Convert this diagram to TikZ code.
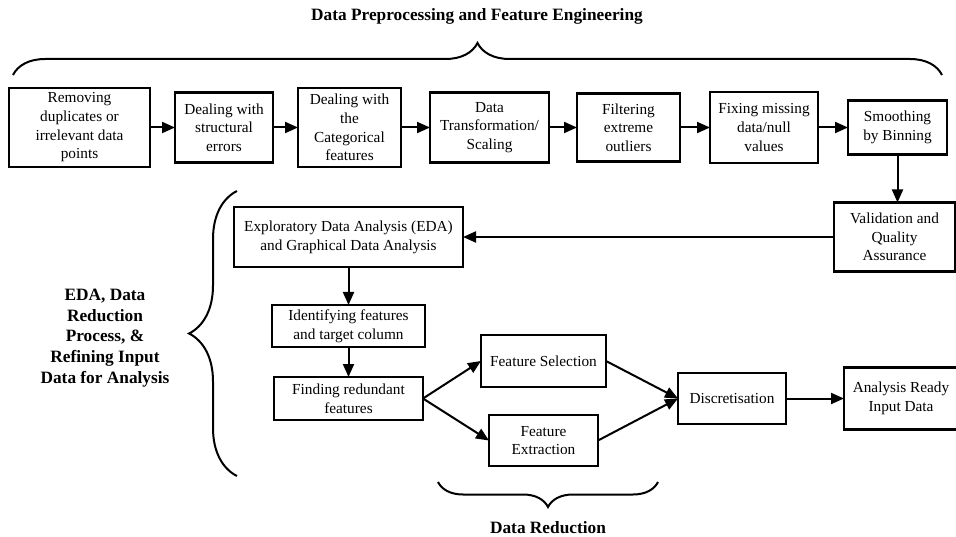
\documentclass[tikz,border=0pt]{standalone}
\usepackage{fontspec}
\setmainfont{Liberation Serif}
\usetikzlibrary{positioning, arrows.meta, decorations.pathreplacing}

\begin{document}
\begin{tikzpicture}[x=1pt, y=-1pt,
    stagebox/.style={draw, line width=2.4pt, align=center, inner sep=2pt, outer sep=0pt,
      font=\fontsize{15.3}{18.7}\selectfont},
    flowarrow/.style={-{Triangle[length=13pt,width=11pt]}, line width=2pt},
    groupbrace/.style={decorate, line width=2pt, decoration={brace, amplitude=#1}},
    grouplabel/.style={align=center, font=\fontsize{17.3}{20.8}\selectfont\bfseries}]
  \useasboundingbox (0,0) rectangle (956,537);
  \node[stagebox, minimum width=141pt, minimum height=79pt] (remove) at (79.5,127.5) {Removing\\duplicates or\\irrelevant data\\points};
  \node[stagebox, minimum width=98pt, minimum height=70pt, right=25pt of remove] (struct) {Dealing with\\structural\\errors};
  \node[stagebox, minimum width=103pt, minimum height=79pt, right=25pt of struct] (categ) {Dealing with\\the\\Categorical\\features};
  \node[stagebox, minimum width=119pt, minimum height=70pt, right=29pt of categ] (transf) {Data\\Transformation/\\Scaling};
  \node[stagebox, minimum width=103pt, minimum height=68pt, right=28pt of transf] (outl) {Filtering\\extreme\\outliers};
  \node[stagebox, minimum width=108pt, minimum height=71pt, right=30pt of outl] (missing) {Fixing missing\\data/null\\values};
  \node[stagebox, minimum width=99pt, minimum height=54pt, right=30pt of missing] (smooth) {Smoothing\\by Binning};
  \node[stagebox, minimum width=121pt, minimum height=69pt, below=48pt of smooth, xshift=-3pt] (valid) {Validation and\\Quality\\Assurance};
  \node[stagebox, minimum width=229pt, minimum height=60pt, left=371pt of valid] (eda) {Exploratory Data Analysis (EDA)\\and Graphical Data Analysis};
  \node[stagebox, minimum width=153pt, minimum height=42pt, below=38pt of eda] (ident) {Identifying features\\and target column};
  \node[stagebox, minimum width=149pt, minimum height=43pt, below=30pt of ident] (find) {Finding redundant\\features};
  \node[stagebox, minimum width=125pt, minimum height=52pt, right=58pt of find, yshift=37.5pt] (select) {Feature Selection};
  \node[stagebox, minimum width=109pt, minimum height=51pt, right=66pt of find, yshift=-42pt] (extract) {Feature\\Extraction};
  \node[stagebox, minimum width=108pt, minimum height=51pt, right=255pt of find] (disc) {Discretisation};
  \node[stagebox, minimum width=114pt, minimum height=62pt, right=58pt of disc] (ready) {Analysis Ready\\Input Data};

  \draw[flowarrow] (remove) -- (struct);
  \draw[flowarrow] (struct) -- (categ);
  \draw[flowarrow] (categ) -- (transf);
  \draw[flowarrow] (transf) -- (outl);
  \draw[flowarrow] (outl) -- (missing);
  \draw[flowarrow] (missing) -- (smooth);
  \draw[flowarrow] (smooth.south) -- (smooth.south |- valid.north);
  \draw[flowarrow] (valid) -- (eda);
  \draw[flowarrow] (eda) -- (ident);
  \draw[flowarrow] (ident) -- (find);
  \draw[flowarrow] (find.east) -- (select.west);
  \draw[flowarrow] (find.east) -- (extract.west);
  \draw[flowarrow] (select.east) -- (disc.west);
  \draw[flowarrow] (extract.east) -- (disc.west);
  \draw[flowarrow] (disc) -- (ready);

  \draw[groupbrace=32pt] (13,75) -- (942,75);
  \draw[groupbrace=48pt] (237,476) -- (237,191);
  \draw[groupbrace=25pt] (658,482) -- (438,482);
  \node[grouplabel, anchor=base] (prepLabel) at (477,21) {Data Preprocessing and Feature Engineering};
  \node[grouplabel] (edaLabel) at (105,338) {EDA, Data\\Reduction\\Process, \&\\Refining Input\\Data for Analysis};
  \node[grouplabel, anchor=base] (reduceLabel) at (548,533) {Data Reduction};
\end{tikzpicture}
\end{document}
